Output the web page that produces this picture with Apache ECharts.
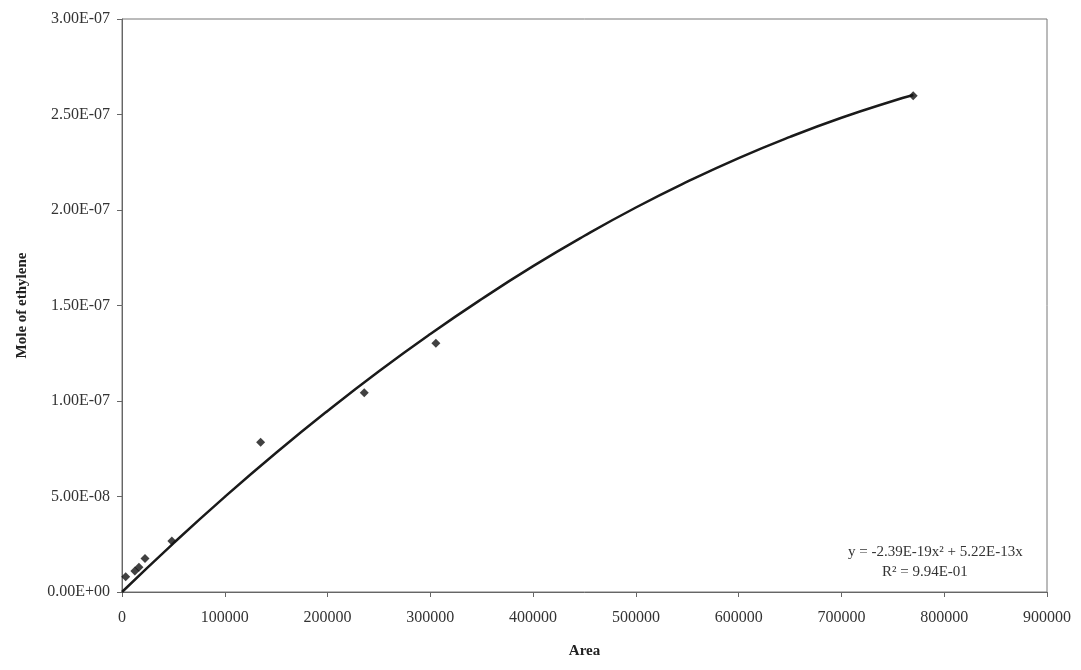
<!DOCTYPE html>
<html>
<head>
<meta charset="utf-8">
<script src="https://cdn.jsdelivr.net/npm/echarts@6/dist/echarts.min.js"></script>
<style>
html,body{margin:0;padding:0;background:#fff;}
#chart{width:1081px;height:670px;}
</style>
</head>
<body>
<div id="chart"></div>
<script>
// Measured data points (Area, Mole of ethylene)
const areaPoints = [3600, 12500, 16500, 22400, 48500, 134900, 235700, 305400, 769800];
const molePoints = [8.0e-9, 1.10e-8, 1.29e-8, 1.76e-8, 2.67e-8, 7.84e-8, 1.043e-7, 1.302e-7, 2.598e-7];

// Trendline
const trendArea = [0, 50000, 100000, 150000, 200000, 250000, 300000, 350000, 400000, 450000, 500000, 550000, 600000, 650000, 700000, 750000, 770000];
const trendMole = [0, 2.55e-8, 4.98e-8, 7.29e-8, 9.48e-8, 1.156e-7, 1.351e-7, 1.534e-7, 1.706e-7, 1.865e-7, 2.013e-7, 2.148e-7, 2.272e-7, 2.383e-7, 2.483e-7, 2.571e-7, 2.602e-7];

const xTitle = 'Area';
const yTitle = 'Mole of ethylene';
const eqLine1 = 'y = -2.39E-19x² + 5.22E-13x';
const eqLine2 = 'R² = 9.94E-01';

function sci(v) {
  if (v === 0) return '0.00E+00';
  let e = Math.floor(Math.log10(Math.abs(v)) + 1e-9);
  let m = v / Math.pow(10, e);
  if (Math.abs(m) >= 9.995) { m /= 10; e += 1; }
  const sign = e < 0 ? '-' : '+';
  const ae = Math.abs(e);
  return m.toFixed(2) + 'E' + sign + (ae < 10 ? '0' + ae : '' + ae);
}

const font = '"Liberation Serif", "DejaVu Serif", serif';
const chart = echarts.init(document.getElementById('chart'), null, {renderer: 'canvas'});
chart.setOption({
  backgroundColor: '#ffffff',
  animation: false,
  grid: {left: 122, right: 34, top: 19, bottom: 78, show: true, borderColor: '#777', borderWidth: 1},
  xAxis: {
    type: 'value', min: 0, max: 900000, interval: 100000,
    name: xTitle, nameLocation: 'middle', nameGap: 52,
    nameTextStyle: {fontFamily: font, fontSize: 15, fontWeight: 'bold', color: '#222'},
    axisLine: {show: true, onZero: false, lineStyle: {color: '#666', width: 1}},
    axisTick: {show: true, inside: false, length: 5, lineStyle: {color: '#666'}},
    axisLabel: {fontFamily: font, fontSize: 16, color: '#333', margin: 18, formatter: v => String(Math.round(v))},
    splitLine: {show: false}
  },
  yAxis: {
    type: 'value', min: 0, max: 3e-7, interval: 5e-8,
    name: yTitle, nameLocation: 'middle', nameGap: 92, nameRotate: 90,
    nameTextStyle: {fontFamily: font, fontSize: 15, fontWeight: 'bold', color: '#222'},
    axisLine: {show: true, lineStyle: {color: '#666', width: 1}},
    axisTick: {show: true, inside: false, length: 5, lineStyle: {color: '#666'}},
    axisLabel: {fontFamily: font, fontSize: 16, color: '#333', margin: 12, formatter: sci},
    splitLine: {show: false}
  },
  series: [
    {
      type: 'line', name: 'trend', smooth: true, showSymbol: false, symbol: 'none',
      data: trendArea.map((x, i) => [x, trendMole[i]]),
      lineStyle: {color: '#1a1a1a', width: 2.5},
      z: 2
    },
    {
      type: 'scatter', name: 'data', symbol: 'diamond', symbolSize: 9,
      data: areaPoints.map((x, i) => [x, molePoints[i]]),
      itemStyle: {color: '#111'},
      z: 3
    }
  ],
  graphic: [
    {type: 'text', left: 848, top: 545, style: {text: eqLine1, font: '15px ' + font, fill: '#333'}},
    {type: 'text', left: 882, top: 565, style: {text: eqLine2, font: '15px ' + font, fill: '#333'}}
  ]
});
</script>
</body>
</html>
